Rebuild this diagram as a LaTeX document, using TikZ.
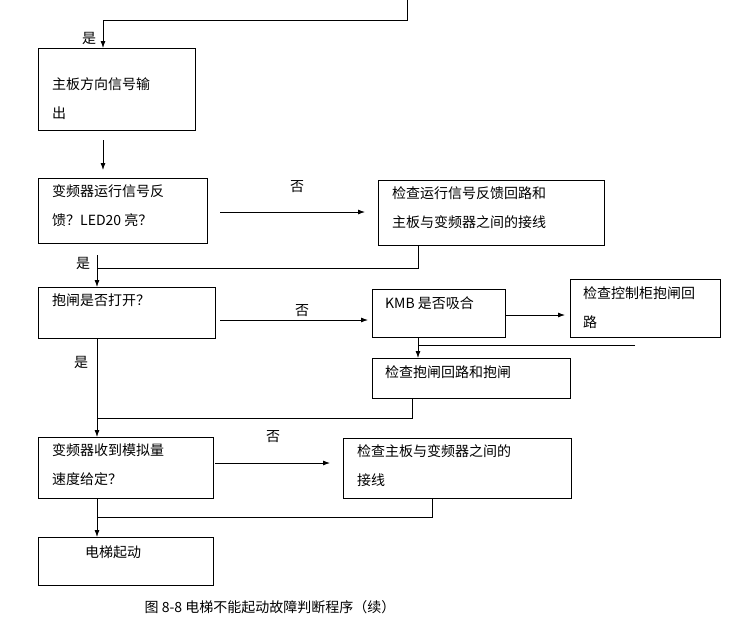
\documentclass[tikz,border=0pt]{standalone}
\usepackage{fontspec}
\setmainfont{Noto Sans CJK SC}
\usetikzlibrary{arrows.meta}
\begin{document}
\begin{tikzpicture}[x=1pt,y=-1pt,
  bx/.style={draw,line width=0.8pt},
  tx/.style={anchor=north west,align=left,font=\fontsize{14}{29}\selectfont,inner sep=0pt},
  lb/.style={font=\fontsize{14}{16}\selectfont,inner sep=0pt},
  ar/.style={line width=0.8pt,-{Latex[length=7pt,width=5pt]}},
  ln/.style={line width=0.8pt}]
\useasboundingbox (0,0) rectangle (740,625);
% boxes
\draw[bx] (38,48) rectangle (195,130);
\node[tx] (t1) at (52,77) {主板方向信号输\\出};
\draw[bx] (38,178) rectangle (207,243);
\node[tx] (t2) at (52,184) {变频器运行信号反\\馈？LED20 亮？};
\draw[bx] (378,180) rectangle (604,245);
\node[tx] (t3) at (392,186) {检查运行信号反馈回路和\\主板与变频器之间的接线};
\draw[bx] (38,287) rectangle (215,338);
\node[tx] (t4) at (52,294) {抱闸是否打开？};
\draw[bx] (372,289) rectangle (505,337);
\node[tx] (t5) at (385,296) {KMB 是否吸合};
\draw[bx] (570,279) rectangle (720,337);
\node[tx] (t6) at (583,286) {检查控制柜抱闸回\\路};
\draw[bx] (372,358) rectangle (570,398);
\node[tx] (t7) at (385,365) {检查抱闸回路和抱闸};
\draw[bx] (38,437) rectangle (213,498);
\node[tx] (t8) at (52,443) {变频器收到模拟量\\速度给定？};
\draw[bx] (343,438) rectangle (571,498);
\node[tx] (t9) at (357,444) {检查主板与变频器之间的\\接线};
\draw[bx] (38,537) rectangle (213,585);
\node[tx] (t10) at (85,546) {电梯起动};
% connectors
\coordinate (c0) at (407,0);
\draw[ln] (c0) -- (407,20) -- (103,20);
\draw[ar] (103,20) -- (103,48);
\node[lb] (y1) at (89,38) {是};
\draw[ar] (103,140) -- (103,170);
\draw[ar] (220,212) -- (365,212);
\node[lb] (n1) at (297,187) {否};
\draw[ln] (418,245) -- (418,268) -- (97,268);
\draw[ar] (97,255) -- (97,287);
\node[lb] (y2) at (83,263) {是};
\draw[ar] (220,320) -- (368,320);
\node[lb] (n2) at (302,311) {否};
\draw[ar] (505,315) -- (565,315);
\draw[ln] (635,345) -- (418,345);
\draw[ar] (418,337) -- (418,358);
\draw[ln] (412,398) -- (412,418) -- (97,418);
\draw[ln] (97,338) -- (97,418);
\draw[ar] (97,418) -- (97,437);
\node[lb] (y3) at (81,362) {是};
\draw[ar] (215,463) -- (330,463);
\node[lb] (n3) at (273,437) {否};
\draw[ln] (432,498) -- (432,517) -- (97,517);
\draw[ar] (97,498) -- (97,537);
\node[lb] (cap) at (270,607) {图 8-8 电梯不能起动故障判断程序（续）};
\end{tikzpicture}
\end{document}
